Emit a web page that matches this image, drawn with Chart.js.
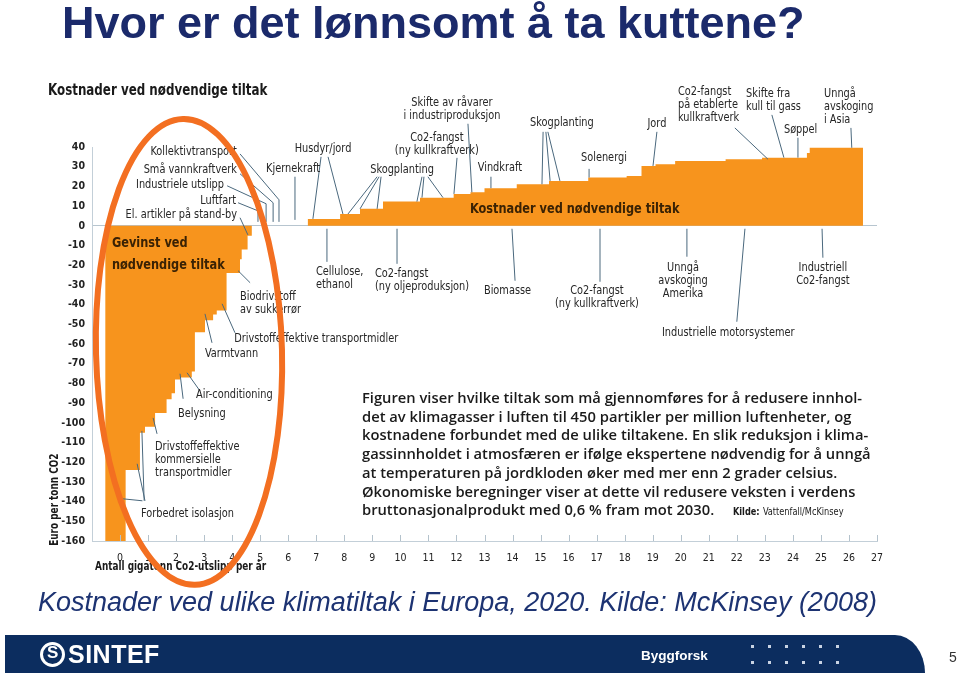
<!DOCTYPE html>
<html>
<head>
<meta charset="utf-8">
<script src="https://cdn.jsdelivr.net/npm/chart.js@4.4.1/dist/chart.umd.min.js"></script>
<style>
  body { margin: 0; width: 960px; height: 673px; background: #fff; position: relative; overflow: hidden; font-family: "Liberation Sans", Arial, sans-serif; }
  #chart { position: absolute; left: 0; top: 0; }
  #title { position: absolute; left: 62px; top: 0; font-size: 45px; line-height: 45px; font-weight: bold; color: #1b2a6b; white-space: nowrap; }
  #chartHead { position: absolute; left: 48px; top: 81px; font: bold 15px "DejaVu Sans Condensed", "DejaVu Sans", sans-serif; color: #1a1a1a; white-space: nowrap; transform: scaleX(0.88); transform-origin: 0 0; }
  #subtitle { position: absolute; left: 38px; top: 589px; font-size: 27px; line-height: 27px; font-style: italic; color: #1d3372; white-space: nowrap; }
  #footer { position: absolute; left: 5px; top: 635px; width: 920px; height: 38px; background: #0c2d5f; border-top-right-radius: 30px 38px; }
  #logo { position: absolute; left: 35px; top: 7px; width: 19px; height: 19px; border: 3px solid #fff; border-radius: 50%; }
  #logo span { position: absolute; left: 4px; top: -2px; color: #fff; font: bold 17px "Liberation Sans", Arial, sans-serif; }
  #sintef { position: absolute; left: 63px; top: 5px; color: #fff; font: bold 25px "Liberation Sans", Arial, sans-serif; letter-spacing: 0.5px; }
  #bygg { position: absolute; left: 636px; top: 13px; color: #fff; font: bold 13.5px "Liberation Sans", Arial, sans-serif; }
  .dot { position: absolute; width: 3px; height: 3px; background: #c9d3e3; }
  #page { position: absolute; left: 949px; top: 649px; font-size: 14px; color: #333; }
</style>
</head>
<body>
<canvas id="chart" width="960" height="673"></canvas>
<div id="title">Hvor er det lønnsomt å ta kuttene?</div>
<div id="chartHead">Kostnader ved nødvendige tiltak</div>
<div id="subtitle">Kostnader ved ulike klimatiltak i Europa, 2020. Kilde: McKinsey (2008)</div>
<div id="footer">
  <div id="logo"><span>S</span></div>
  <div id="sintef">SINTEF</div>
  <div id="bygg">Byggforsk</div>
</div>
<div id="page">5</div>
<script>
// start of each step (gigatonn) and its cost (euro per tonn)
const stepX = [-0.53, 0.2, 0.71, 0.89, 1.25, 1.66, 1.84, 1.96, 2.14, 2.56, 2.67, 3.03, 3.32, 3.45, 3.80, 4.28, 4.34, 4.55, 4.70,
  6.70, 7.85, 8.56, 9.38, 10.7, 11.9, 12.5, 13.0, 14.15, 15.3, 16.7, 18.07, 18.6, 19.1, 19.8, 21.6, 22.9, 24.5, 24.6, 26.5];
const stepY = [-160, -124, -105, -102, -95, -88, -85, -78, -77, -74, -54, -48, -45, -43, -24, -17, -12, -5, 0,
  3.5, 6, 8.6, 12.3, 14.3, 16.2, 17, 19.1, 21.1, 22.8, 24.5, 25.3, 30.4, 31.2, 32.9, 33.8, 34.6, 37, 39.6, 0];

const xTickValues = [0, 1, 2, 3, 4, 5, 6, 7, 8, 9, 10, 11, 12, 13, 14, 15, 16, 17, 18, 19, 20, 21, 22, 23, 24, 25, 26, 27];
const yTickValues = [40, 30, 20, 10, 0, -10, -20, -30, -40, -50, -60, -70, -80, -90, -100, -110, -120, -130, -140, -150, -160];

// labels with leader lines, in data units (t: text lines, x/y: anchor, a: align, l: polylines)
const annotations = [
  { t: ['Kollektivtransport'], x: 4.17, y: 37.6, a: 'right', l: [[4.28, 36.5, 5.67, 13.2, 5.67, 2]] },
  { t: ['Små vannkraftverk'], x: 4.17, y: 28.4, a: 'right', l: [[4.28, 26.4, 5.46, 11.7, 5.46, 2]] },
  { t: ['Industriele utslipp'], x: 3.71, y: 20.8, a: 'right', l: [[3.82, 20.3, 5.21, 11.2, 5.21, 2]] },
  { t: ['Luftfart'], x: 4.14, y: 12.7, a: 'right', l: [[4.21, 11.7, 4.92, 7.6, 4.92, 2]] },
  { t: ['El. artikler på stand-by'], x: 4.17, y: 5.6, a: 'right', l: [[4.28, 4.1, 4.56, -4.6]] },
  { t: ['Kjernekraft'], x: 6.17, y: 28.9, a: 'center', l: [[6.24, 24.9, 6.24, 3]] },
  { t: ['Husdyr/jord'], x: 7.24, y: 39.1, a: 'center', l: [[7.17, 35, 6.88, 3.5], [7.42, 35, 7.95, 6]] },
  { t: ['Skogplanting'], x: 10.06, y: 28.4, a: 'center', l: [[9.17, 24.9, 8.13, 6], [9.24, 24.9, 8.56, 8.6], [9.31, 24.9, 9.17, 8.6]] },
  { t: ['Co2-fangst', '(ny kullkraftverk)'], x: 11.3, y: 44.7, a: 'center',
    l: [[10.77, 24.9, 10.59, 12.3], [10.84, 24.9, 10.77, 14.3], [10.98, 24.9, 11.52, 14.3], [12.02, 34.5, 11.91, 16.2]] },
  { t: ['Skifte av råvarer', 'i industriproduksjon'], x: 11.84, y: 62.4, a: 'center', l: [[12.41, 51.8, 12.55, 17]] },
  { t: ['Vindkraft'], x: 13.55, y: 29.4, a: 'center', l: [[13.23, 24.9, 13.23, 19.1]] },
  { t: ['Skogplanting'], x: 15.76, y: 52.3, a: 'center', l: [[15.09, 47.7, 15.05, 21.1], [15.19, 47.7, 15.34, 22.8], [15.26, 47.7, 15.69, 22.8]] },
  { t: ['Solenergi'], x: 17.26, y: 34.5, a: 'center', l: [[16.73, 28.9, 16.73, 24.5]] },
  { t: ['Jord'], x: 19.15, y: 51.8, a: 'center', l: [[19.15, 47.7, 19.01, 30.4]] },
  { t: ['Co2-fangst', 'på etablerte', 'kullkraftverk'], x: 19.9, y: 68, a: 'left', l: [[21.93, 49.7, 23.11, 33.8]] },
  { t: ['Skifte fra', 'kull til gass'], x: 22.33, y: 67, a: 'left', l: [[23.25, 56.3, 23.68, 34.6]] },
  { t: ['Søppel'], x: 23.68, y: 48.7, a: 'left', l: [[24.18, 44.7, 24.18, 34.6]] },
  { t: ['Unngå', 'avskoging', 'i Asia'], x: 25.11, y: 67, a: 'left', l: [[26.07, 49.7, 26.1, 39.6]] },
  { t: ['Cellulose,', 'ethanol'], x: 6.99, y: -23.4, a: 'left', l: [[7.38, -1.5, 7.38, -18.3]] },
  { t: ['Co2-fangst', '(ny oljeproduksjon)'], x: 9.09, y: -24.4, a: 'left', l: [[9.88, -1.5, 9.88, -19.3]] },
  { t: ['Biomasse'], x: 12.98, y: -33, a: 'left', l: [[13.98, -1.5, 14.09, -27.9]] },
  { t: ['Co2-fangst', '(ny kullkraftverk)'], x: 17.01, y: -33, a: 'center', l: [[17.12, -1.5, 17.12, -28.4]] },
  { t: ['Unngå', 'avskoging', 'Amerika'], x: 20.08, y: -21.3, a: 'center', l: [[20.22, -1.5, 20.22, -15.7]] },
  { t: ['Industrielle motorsystemer'], x: 19.33, y: -54.3, a: 'left', l: [[22.29, -1.5, 22.0, -48.7]] },
  { t: ['Industriell', 'Co2-fangst'], x: 25.07, y: -21.3, a: 'center', l: [[25.04, -1.5, 25.07, -16.2]] },
  { t: ['Biodrivstoff', 'av sukkerrør'], x: 4.28, y: -36, a: 'left', l: [[4.21, -22.8, 4.64, -28.9]] },
  { t: ['Drivstoffeffektive transportmidler'], x: 4.07, y: -57.4, a: 'left', l: [[3.64, -39.6, 4.10, -54.3]] },
  { t: ['Varmtvann'], x: 3.03, y: -65, a: 'left', l: [[3.03, -44.7, 3.28, -59.4]] },
  { t: ['Air-conditioning'], x: 2.71, y: -85.8, a: 'left', l: [[2.39, -74.6, 2.85, -83.8]] },
  { t: ['Belysning'], x: 2.07, y: -95.4, a: 'left', l: [[2.14, -75.1, 2.25, -87.8]] },
  { t: ['Drivstoffeffektive', 'kommersielle', 'transportmidler'], x: 1.25, y: -112.2, a: 'left', l: [[1.18, -97.5, 1.32, -105.6]] },
  { t: ['Forbedret isolasjon'], x: 0.75, y: -146.2, a: 'left',
    l: [[0.89, -139.6, 0.61, -120.8], [0.86, -139.6, 0.78, -104.1], [0.8, -139.6, 0.11, -138.6]] }
];

const textLines = [
  'Figuren viser hvilke tiltak som må gjennomføres for å redusere innhol-',
  'det av klimagasser i luften til 450 partikler per million luftenheter, og',
  'kostnadene forbundet med de ulike tiltakene. En slik reduksjon i klima-',
  'gassinnholdet i atmosfæren er ifølge ekspertene nødvendig for å unngå',
  'at temperaturen på jordkloden øker med mer enn 2 grader celsius.',
  'Økonomiske beregninger viser at dette vil redusere veksten i verdens',
  'bruttonasjonalprodukt med 0,6 % fram mot 2030.'
];

const NARROW = '"DejaVu Sans Condensed", "DejaVu Sans", sans-serif';
const SQUEEZE = 0.87;
const ORANGE = '#f7941d';

// outline of the step curve: each cost holds from its start to the next start
const stepPoints = [];
stepX.forEach((x0, i) => {
  stepPoints.push({ x: x0, y: stepY[i] });
  if (i < stepX.length - 1) stepPoints.push({ x: stepX[i + 1], y: stepY[i] });
});

function squeezedText(ctx, text, x, y, sx) {
  ctx.save();
  ctx.translate(x, y);
  ctx.scale(sx, 1);
  ctx.fillText(text, 0, 0);
  ctx.restore();
}

const overlay = {
  id: 'overlay',
  afterDraw(chart) {
    const { ctx, scales: { x, y } } = chart;
    const X = v => x.getPixelForValue(v);
    const Y = v => y.getPixelForValue(v);
    ctx.save();

    // small ticks above the x axis
    ctx.strokeStyle = '#b4c2cc';
    ctx.lineWidth = 1;
    xTickValues.forEach(v => {
      const px = Math.round(X(v)) + 0.5;
      ctx.beginPath();
      ctx.moveTo(px, y.bottom);
      ctx.lineTo(px, y.bottom - 6);
      ctx.stroke();
    });

    // leader lines
    ctx.strokeStyle = '#4a687d';
    annotations.forEach(a => a.l.forEach(seg => {
      ctx.beginPath();
      for (let i = 0; i < seg.length; i += 2) {
        if (i === 0) ctx.moveTo(X(seg[i]), Y(seg[i + 1]));
        else ctx.lineTo(X(seg[i]), Y(seg[i + 1]));
      }
      ctx.stroke();
    }));

    // labels
    ctx.fillStyle = '#262626';
    ctx.font = '12.5px ' + NARROW;
    ctx.textBaseline = 'middle';
    annotations.forEach(a => {
      ctx.textAlign = a.a;
      a.t.forEach((s, i) => squeezedText(ctx, s, X(a.x), Y(a.y) + i * 13, SQUEEZE));
    });

    // region labels
    ctx.fillStyle = '#3a2204';
    ctx.font = 'bold 14.5px ' + NARROW;
    ctx.textAlign = 'left';
    squeezedText(ctx, 'Gevinst ved', X(-0.29), Y(-9.1), SQUEEZE);
    squeezedText(ctx, 'nødvendige tiltak', X(-0.29), Y(-19.8), SQUEEZE);
    squeezedText(ctx, 'Kostnader ved nødvendige tiltak', X(12.48), Y(8.6), SQUEEZE);

    // axis titles
    ctx.fillStyle = '#1a1a1a';
    ctx.font = 'bold 11.5px ' + NARROW;
    squeezedText(ctx, 'Antall gigatonn Co2-utslipp per år', x.left + 3, y.bottom + 26, 0.86);
    ctx.save();
    ctx.translate(x.left - 37, Y(-139));
    ctx.rotate(-Math.PI / 2);
    ctx.textAlign = 'center';
    squeezedText(ctx, 'Euro per tonn CO2', 0, 0, 0.86);
    ctx.restore();

    // text block, scaled so the first line spans the same width as the original
    ctx.fillStyle = '#1a1a1a';
    ctx.font = '600 15px "Open Sans", "DejaVu Sans", sans-serif';
    ctx.textAlign = 'left';
    const tx = X(8.63), ty = Y(-87.8);
    const s = 500 / ctx.measureText(textLines[0]).width;
    textLines.forEach((line, i) => squeezedText(ctx, line, tx, ty + i * 18.7, s));
    const ky = ty + 6 * 18.7 + 1;
    ctx.font = 'bold 10.5px ' + NARROW;
    squeezedText(ctx, 'Kilde:', X(21.86), ky, SQUEEZE);
    ctx.font = '10.5px ' + NARROW;
    squeezedText(ctx, 'Vattenfall/McKinsey', X(21.86) + 30, ky, SQUEEZE);

    // orange highlight ellipse
    ctx.strokeStyle = '#f36f21';
    ctx.lineWidth = 6;
    ctx.beginPath();
    ctx.ellipse(X(2.46), Y(-64), 93, 233, -0.026, 0, Math.PI * 2);
    ctx.stroke();

    ctx.restore();
  }
};

new Chart(document.getElementById('chart'), {
  type: 'line',
  data: {
    datasets: [{
      data: stepPoints,
      tension: 0,
      fill: 'origin',
      backgroundColor: ORANGE,
      borderColor: ORANGE,
      borderWidth: 0,
      pointRadius: 0
    }]
  },
  options: {
    responsive: false,
    animation: false,
    devicePixelRatio: 1,
    layout: { padding: { left: 40, top: 147, right: 83, bottom: 102 } },
    plugins: { legend: { display: false }, tooltip: { enabled: false } },
    scales: {
      x: {
        type: 'linear', min: -1, max: 27,
        afterBuildTicks: s => { s.ticks = xTickValues.map(v => ({ value: v })); },
        afterFit: s => { s.height = 30; },
        ticks: { autoSkip: false, maxRotation: 0, padding: 3, color: '#222', font: { family: NARROW, size: 10.5 } },
        grid: { display: false },
        border: { display: true, color: '#c3cfd8' }
      },
      y: {
        min: -160, max: 40,
        afterBuildTicks: s => { s.ticks = yTickValues.map(v => ({ value: v })); },
        afterFit: s => { s.width = 52; },
        ticks: { padding: 7, color: '#222', font: { family: NARROW, size: 10.5, weight: 'bold' } },
        grid: { drawTicks: false, color: c => (c.tick && c.tick.value === 0 ? '#b7c5cf' : 'rgba(0,0,0,0)') },
        border: { display: true, color: '#c3cfd8' }
      }
    }
  },
  plugins: [overlay]
});

// footer dots
const footer = document.getElementById('footer');
[10, 26].forEach(top => {
  for (let i = 0; i < 6; i++) {
    const d = document.createElement('div');
    d.className = 'dot';
    d.style.left = (746 + i * 17) + 'px';
    d.style.top = top + 'px';
    footer.appendChild(d);
  }
});
</script>
</body>
</html>
